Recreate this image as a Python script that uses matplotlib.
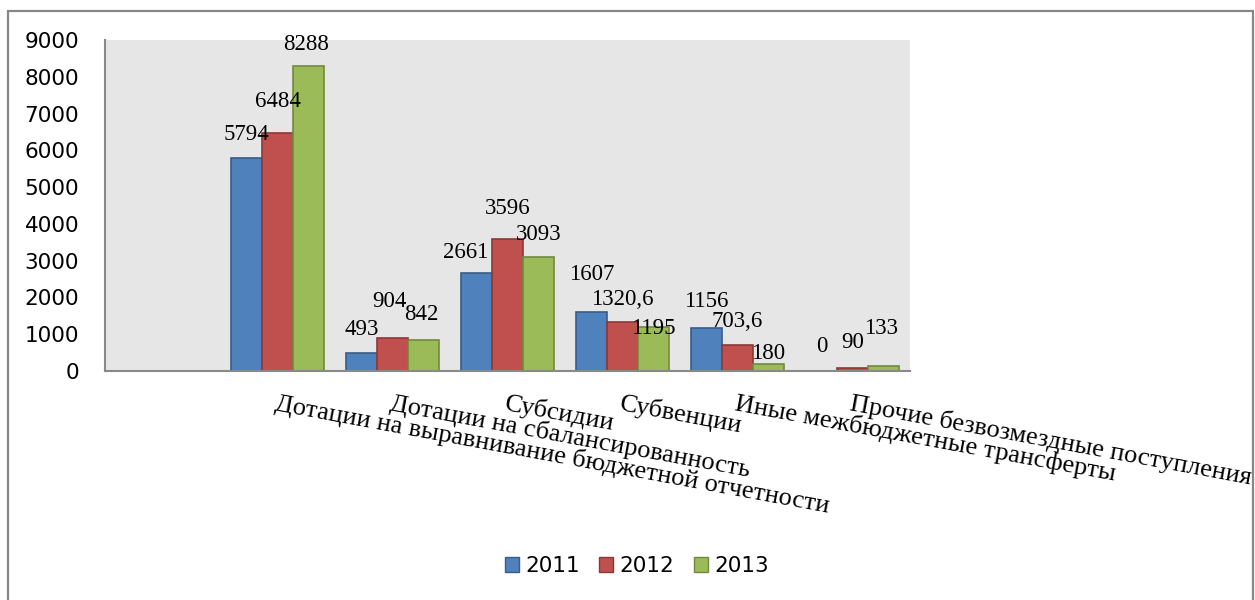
import numpy as np
import matplotlib.pyplot as plt
from matplotlib.patches import Patch, Rectangle

categories = ['',
              'Дотации на выравнивание бюджетной отчетности',
              'Дотации на сбалансированность',
              'Субсидии',
              'Субвенции',
              'Иные межбюджетные трансферты',
              'Прочие безвозмездные поступления']
years = ['2011', '2012', '2013']
v2011 = [np.nan, 5794, 493, 2661, 1607, 1156, 0]
v2012 = [np.nan, 6484, 904, 3596, 1320.6, 703.6, 90]
v2013 = [np.nan, 8288, 842, 3093, 1195, 180, 133]

colors = ['#4F81BD', '#C0504D', '#9BBB59']
edges = ['#385D8A', '#8C3836', '#71893F']
# label lift above the bar top (pixels), per series and category
lift = [[0, 23, 23, 21, 37, 27, 24],
        [0, 31, 36, 30, 23, 24, 25],
        [0, 22, 26, 23, -1, 11, 38]]
shift = [[0, 0, 0, -11, 0, 0, 0],
         [0, 0, -3, 0, 0, 0, 0],
         [0, -2, -2, 0, 0, 0, -3]]

fig = plt.figure(figsize=(12.55, 6), dpi=100)
ax = fig.add_axes([105/1255, 1-371/600, 805/1255, 331/600])
ax.set_facecolor('#E6E6E6')

x = np.arange(len(categories))
w = 0.27
series = [v2011, v2012, v2013]
for k, vals in enumerate(series):
    xs = x + (k-1)*w
    ax.bar(xs, vals, w, color=colors[k], edgecolor=edges[k], linewidth=1.2)
    for i, v in enumerate(vals):
        if np.isnan(v):
            continue
        txt = ('%g' % v).replace('.', ',')
        ax.annotate(txt, (xs[i], v), xytext=(shift[k][i], lift[k][i]),
                    textcoords='offset pixels', ha='center', va='center',
                    fontsize=16.5, family='Liberation Serif', color='black')

ax.set_xlim(-0.5, len(categories)-0.5)
ax.set_ylim(0, 9000)
ax.set_yticks(range(0, 9001, 1000))
ax.tick_params(axis='y', length=0, pad=18.5, labelsize=15.5)
ax.set_xticks(x)
ax.set_xticklabels(categories, rotation=-10.5, ha='left', rotation_mode='anchor',
                   fontsize=19, family='Liberation Serif')
ax.tick_params(axis='x', length=0, pad=15)
for s in ['top', 'right']:
    ax.spines[s].set_visible(False)
for s in ['left', 'bottom']:
    ax.spines[s].set_color('#898989')
    ax.spines[s].set_linewidth(1.5)

handles = [Patch(facecolor=colors[k], edgecolor=edges[k], label=years[k]) for k in range(3)]
fig.legend(handles=handles, loc='center', bbox_to_anchor=(637/1255, 1-566/600),
           ncol=3, frameon=False, fontsize=15.5, handlelength=0.65, handleheight=0.65,
           handletextpad=0.3, columnspacing=0.9)

fig.patches.append(Rectangle((8/1255, -0.1), 1245/1255, 1.1-11/600,
                             transform=fig.transFigure, fill=False,
                             edgecolor='#878787', linewidth=1.6))

fig.savefig('out.png', dpi=100)
